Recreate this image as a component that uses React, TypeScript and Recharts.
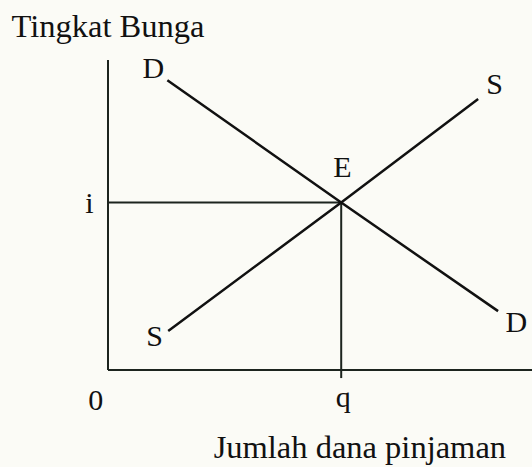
import React from "react";
import { LineChart, Line, XAxis, YAxis, ReferenceLine, ReferenceDot } from "recharts";

// Loanable-funds market: quantity of funds (q) vs. interest rate (r)
const demandCurve = [
  { q: 14, r: 93.5 },
  { q: 55, r: 54 },
  { q: 92, r: 19 },
];

const supplyCurve = [
  { q: 14.2, r: 12.6 },
  { q: 55, r: 54 },
  { q: 87.3, r: 87.4 },
];

const equilibrium = { q: 55, r: 54 };
const qTickEnd = -2.6;

const curveLabels = [
  { text: "D", q: 10.7, r: 97.6 },
  { text: "D", q: 96.3, r: 15.8 },
  { text: "S", q: 91.2, r: 92.4 },
  { text: "S", q: 11, r: 11.3 },
  { text: "E", q: 55.3, r: 65.8 },
];

const axisLabels = [
  { text: "i", q: -4.4, r: 54.2 },
  { text: "0", q: -2.9, r: -9.5 },
  { text: "q", q: 55.5, r: -8.5 },
];

const axisTitles = [
  { text: "Tingkat Bunga", q: 0, r: 111.1 },
  { text: "Jumlah dana pinjaman", q: 59.4, r: -24.7 },
];

const FONT = "'Liberation Serif', 'Times New Roman', serif";
const INK = "#111111";
const AXIS_INK = "#1c241e";

export default function App() {
  return (
    <div
      style={{
        position: "absolute",
        left: 0,
        top: 0,
        width: 532,
        height: 467,
        background: "#fbfbf6",
      }}
    >
      <LineChart
        width={532}
        height={467}
        margin={{ top: 60, right: 0, left: 108, bottom: 66 }}
      >
        <XAxis type="number" dataKey="q" domain={[0, 100]} allowDataOverflow hide />
        <YAxis type="number" dataKey="r" domain={[-10, 100]} allowDataOverflow hide />

        {/* axes */}
        <ReferenceLine
          segment={[{ x: 0, y: 0 }, { x: 100, y: 0 }]}
          stroke={AXIS_INK}
          strokeWidth={2}
        />
        <ReferenceLine
          segment={[{ x: 0, y: 0 }, { x: 0, y: 100 }]}
          stroke={AXIS_INK}
          strokeWidth={2}
        />

        {/* equilibrium guides */}
        <ReferenceLine
          segment={[{ x: 0, y: equilibrium.r }, { x: equilibrium.q, y: equilibrium.r }]}
          stroke={AXIS_INK}
          strokeWidth={2}
        />
        <ReferenceLine
          segment={[{ x: equilibrium.q, y: equilibrium.r }, { x: equilibrium.q, y: qTickEnd }]}
          stroke={AXIS_INK}
          strokeWidth={2}
        />

        <Line
          data={demandCurve}
          dataKey="r"
          type="linear"
          stroke={INK}
          strokeWidth={2.5}
          dot={false}
          activeDot={false}
          isAnimationActive={false}
        />
        <Line
          data={supplyCurve}
          dataKey="r"
          type="linear"
          stroke={INK}
          strokeWidth={2.5}
          dot={false}
          activeDot={false}
          isAnimationActive={false}
        />

        {[...curveLabels, ...axisLabels].map((l, i) => (
          <ReferenceDot
            key={`lbl-${i}`}
            x={l.q}
            y={l.r}
            r={0}
            fill="none"
            stroke="none"
            ifOverflow="visible"
            label={{
              value: l.text,
              position: "center",
              fontSize: 30,
              fill: INK,
              fontFamily: FONT,
            }}
          />
        ))}

        {axisTitles.map((l, i) => (
          <ReferenceDot
            key={`title-${i}`}
            x={l.q}
            y={l.r}
            r={0}
            fill="none"
            stroke="none"
            ifOverflow="visible"
            label={{
              value: l.text,
              position: "center",
              fontSize: 32.5,
              fill: INK,
              fontFamily: FONT,
            }}
          />
        ))}
      </LineChart>
    </div>
  );
}
